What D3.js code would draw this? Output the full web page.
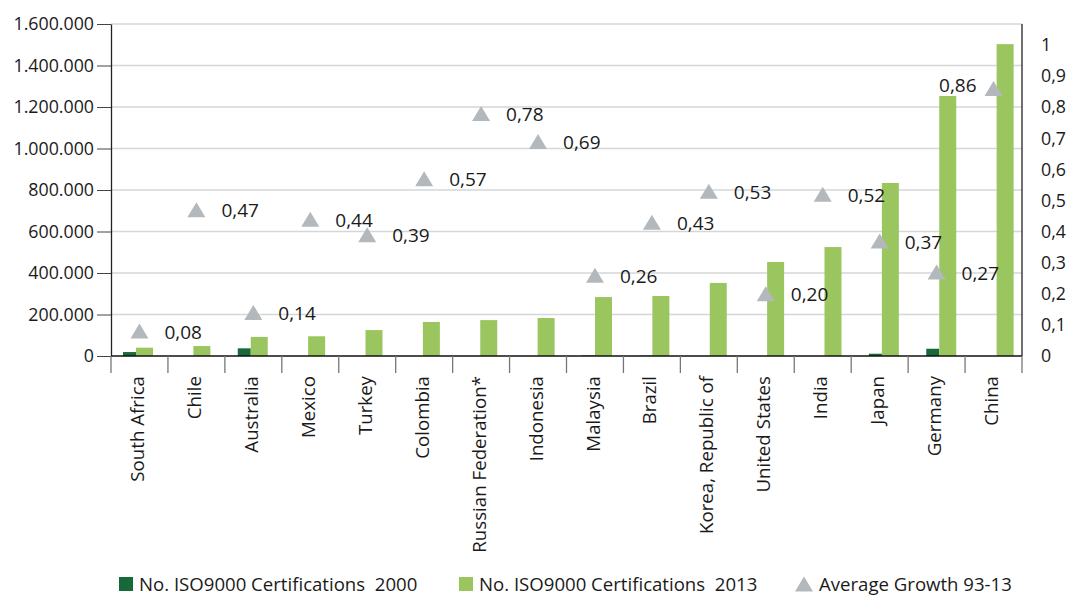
<!DOCTYPE html>
<html lang="en">
<head>
    <meta charset="UTF-8">
    <title>ISO9000 Certifications</title>
    <script src="https://d3js.org/d3.v7.min.js"></script>
    <style>
        body {
            margin: 0;
            background: #fff;
            font-family: "Open Sans", sans-serif;
        }
        svg text {
            fill: #1a1a1a;
        }
    </style>
</head>
<body>
<script>
    // data
    const countries = ["South Africa", "Chile", "Australia", "Mexico", "Turkey", "Colombia",
        "Russian Federation*", "Indonesia", "Malaysia", "Brazil", "Korea, Republic of",
        "United States", "India", "Japan", "Germany", "China"];
    const certs2000 = [19000, 0, 37000, 0, 0, 0, 0, 0, 2500, 1500, 0, 0, 0, 11000, 35000, 0];
    const certs2013 = [40000, 48000, 92000, 95000, 125000, 164000, 173000, 183000,
        284000, 289000, 352000, 453000, 525000, 834000, 1253000, 1503000];
    const growth = [0.08, 0.47, 0.14, 0.44, 0.39, 0.57, 0.78, 0.69,
        0.26, 0.43, 0.53, 0.20, 0.52, 0.37, 0.27, 0.86];
    const leftTicks = [0, 200000, 400000, 600000, 800000, 1000000, 1200000, 1400000, 1600000];
    const rightTicks = [0, 0.1, 0.2, 0.3, 0.4, 0.5, 0.6, 0.7, 0.8, 0.9, 1];
    const legendItems = ["No. ISO9000 Certifications  2000", "No. ISO9000 Certifications  2013", "Average Growth 93-13"];

    const dark = "#17693a", light = "#9bc65f", grey = "#b3b8bc";

    const svg = d3.select("body").append("svg")
        .attr("width", 1066)
        .attr("height", 595)

    const x = d3.scaleBand().domain(countries).range([111, 1022])
    // bars sit on a slightly wider spacing than the category ticks
    const xBar = d3.scaleBand().domain(countries).range([107, 1025])
    const yLeft = d3.scaleLinear().domain([0, 1600000]).range([356, 24])
    const yRight = d3.scaleLinear().domain([0, 1]).range([356, 45])

    const fmtLeft = d => d3.format(",")(d).replace(/,/g, ".")
    const fmtRight = d => d3.format(".2~f")(d).replace(".", ",")

    // triangle centred on its box
    const tri = "M0,-7.5L9,7.5L-9,7.5Z"

    // grid
    svg.append("g")
        .selectAll("line")
        .data(leftTicks.slice(1))
        .enter()
        .append("line")
        .attr("x1", 111).attr("x2", 1022)
        .attr("y1", d => yLeft(d)).attr("y2", d => yLeft(d))
        .attr("stroke", "#d4d6d8")
        .attr("stroke-width", 1.5)

    // left axis
    const gLeft = svg.append("g")
        .attr("transform", "translate(111,0)")
        .call(d3.axisLeft(yLeft).tickValues(leftTicks).tickFormat(fmtLeft).tickSize(14).tickPadding(3).tickSizeOuter(0))
    gLeft.select(".domain").attr("stroke", "#222").attr("stroke-width", 1.3)
    gLeft.selectAll(".tick line").attr("stroke", "#444")
    gLeft.selectAll("text").style("font-size", "17.8px").style("font-family", "Open Sans").attr("fill", "#1a1a1a")

    // right axis
    const gRight = svg.append("g")
        .attr("transform", "translate(1022,0)")
        .call(d3.axisRight(yRight).tickValues(rightTicks).tickFormat(fmtRight).tickSize(0).tickPadding(19).tickSizeOuter(0))
    gRight.select(".domain").attr("d", "M0,24V356").attr("stroke", "#222").attr("stroke-width", 1.3)
    gRight.selectAll("text").style("font-size", "17.8px").style("font-family", "Open Sans").attr("fill", "#1a1a1a")

    // bars
    svg.append("g")
        .selectAll("rect")
        .data(countries)
        .enter()
        .append("rect")
        .attr("x", d => xBar(d) + 16)
        .attr("width", 13)
        .attr("y", (d, i) => yLeft(certs2000[i]))
        .attr("height", (d, i) => yLeft(0) - yLeft(certs2000[i]))
        .attr("fill", dark)

    svg.append("g")
        .selectAll("rect")
        .data(countries)
        .enter()
        .append("rect")
        .attr("x", d => xBar(d) + 29)
        .attr("width", 17)
        .attr("y", (d, i) => yLeft(certs2013[i]))
        .attr("height", (d, i) => yLeft(0) - yLeft(certs2013[i]))
        .attr("fill", light)

    // bottom axis
    const gBottom = svg.append("g")
        .attr("transform", "translate(0,356)")
        .call(d3.axisBottom(x).tickSize(0).tickPadding(0))
    gBottom.select(".domain").attr("d", "M111,0H1022").attr("stroke", "#111").attr("stroke-width", 1.6)
    gBottom.selectAll(".tick line").remove()
    gBottom.selectAll("text")
        .attr("transform", "rotate(-90)")
        .attr("x", -20)
        .attr("y", -2)
        .attr("dy", "0.35em")
        .attr("text-anchor", "end")
        .style("font-size", "18.7px")
        .style("font-family", "Open Sans")
        .attr("fill", "#1a1a1a")
    const bounds = countries.map(c => x(c)).concat([x.range()[1]])
    gBottom.append("g")
        .selectAll("line")
        .data(bounds)
        .enter()
        .append("line")
        .attr("x1", d => d).attr("x2", d => d)
        .attr("y1", 0).attr("y2", 17)
        .attr("stroke", "#777")
        .attr("stroke-width", 1.3)

    // growth markers
    svg.append("g")
        .selectAll("path")
        .data(countries)
        .enter()
        .append("path")
        .attr("d", tri)
        .attr("transform", (d, i) => `translate(${x(d) + x.bandwidth() / 2},${yRight(growth[i])})`)
        .attr("fill", grey)

    svg.append("g")
        .selectAll("text")
        .data(countries)
        .enter()
        .append("text")
        .attr("x", (d, i) => i === countries.length - 1 ? x(d) + x.bandwidth() / 2 - 17 : x(d) + x.bandwidth() / 2 + 25)
        .attr("y", (d, i) => i === countries.length - 1 ? yRight(growth[i]) - 3 : yRight(growth[i]) + 1)
        .attr("dy", "0.35em")
        .attr("text-anchor", (d, i) => i === countries.length - 1 ? "end" : "start")
        .style("font-size", "19px")
        .text((d, i) => d3.format(".2f")(growth[i]).replace(".", ","))

    // legend
    const legendX = [119, 459, 796]
    const legend = svg.append("g")
    legendItems.forEach((label, i) => {
        const g = legend.append("g").attr("transform", `translate(${legendX[i]},584)`)
        if (i < 2) {
            g.append("rect").attr("x", 0).attr("y", -7).attr("width", 14).attr("height", 14)
                .attr("fill", i === 0 ? dark : light)
        } else {
            g.append("path").attr("d", tri).attr("transform", "translate(8,0)").attr("fill", grey)
        }
        g.append("text")
            .attr("x", i < 2 ? 20 : 23)
            .attr("y", 0)
            .attr("dy", "0.35em")
            .style("font-size", "18.6px")
            .style("white-space", "pre")
            .text(label)
    })
</script>
</body>
</html>
